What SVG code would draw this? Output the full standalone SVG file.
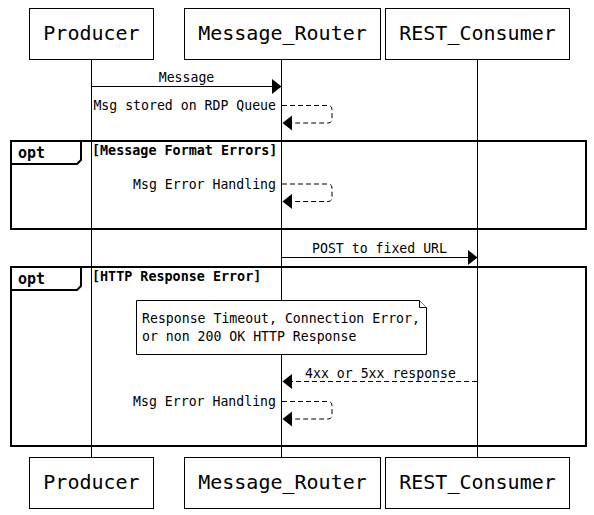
<svg xmlns="http://www.w3.org/2000/svg" width="594" height="515" viewBox="0 0 594 515">
<style>
.box{fill:#fff;stroke:#000;stroke-width:1}
.pt{font-family:"DejaVu Sans Mono","Liberation Mono",monospace;font-size:20px;fill:#000;text-anchor:middle}
.t{font-family:"DejaVu Sans Mono","Liberation Mono",monospace;font-size:13.2px;fill:#000}
.b{font-family:"DejaVu Sans Mono","Liberation Mono",monospace;font-size:13.4px;font-weight:bold;fill:#000}
.opt{font-family:"DejaVu Sans Mono","Liberation Mono",monospace;font-size:15px;font-weight:bold;fill:#000}
.life{stroke:#000;stroke-width:1;fill:none}
.msg{stroke:#000;stroke-width:1;fill:none}
.dash{stroke:#000;stroke-width:1;fill:none;stroke-dasharray:5,3}
.frame{fill:none;stroke:#000;stroke-width:2}
.head{fill:#000;stroke:none}
</style>
<rect width="594" height="515" fill="#fff"/>
<g id="lifelines">
<line class="life" x1="91.5" y1="59" x2="91.5" y2="458"/>
<line class="life" x1="281.5" y1="59" x2="281.5" y2="458"/>
<line class="life" x1="477.5" y1="59" x2="477.5" y2="458"/>
</g>
<g id="frame-opt1">
<rect class="frame" x="11" y="141" width="575" height="88"/>
<path class="frame" d="M11,164 H77 L81,160 V141"/>
<text class="opt" x="18" y="158">opt</text>
<text class="b" x="92" y="154.5">[Message Format Errors]</text>
</g>
<g id="frame-opt2">
<rect class="frame" x="11" y="267" width="575" height="179"/>
<path class="frame" d="M11,290 H77 L81,286 V267"/>
<text class="opt" x="18" y="284">opt</text>
<text class="b" x="92" y="280.5">[HTTP Response Error]</text>
</g>
<g id="note">
<path class="box" d="M136.5,300.5 H419.5 L426.5,307.5 V354.5 H136.5 Z"/>
<path class="box" d="M419.5,300.5 V307.5 H426.5"/>
<text class="t" x="142" y="323">Response Timeout, Connection Error,</text>
<text class="t" x="142" y="341">or non 200 OK HTTP Response</text>
</g>
<g id="connectors">
<line class="msg" x1="91.5" y1="86.5" x2="275" y2="86.5"/>
<polygon class="head" points="272,79 281.5,86.5 272,94"/>
<text class="t" x="186.5" y="82" text-anchor="middle">Message</text>

<path class="dash" d="M282,105.5 H328 Q332,105.5 332,109.5 V119 Q332,123 328,123 H288"/>
<polygon class="head" points="282.5,123 292,115.5 292,130.5"/>
<text class="t" x="276" y="110" text-anchor="end">Msg stored on RDP Queue</text>

<path class="dash" d="M282,184 H328 Q332,184 332,188 V197.5 Q332,201.5 328,201.5 H288"/>
<polygon class="head" points="282.5,201.5 292,194 292,209"/>
<text class="t" x="276" y="188.5" text-anchor="end">Msg Error Handling</text>

<line class="msg" x1="282" y1="257.5" x2="472" y2="257.5"/>
<polygon class="head" points="468,250 477.5,257.5 468,265"/>
<text class="t" x="379.5" y="253" text-anchor="middle">POST to fixed URL</text>

<line class="dash" x1="477" y1="381.5" x2="288" y2="381.5"/>
<polygon class="head" points="282.5,381.5 292,374 292,389"/>
<text class="t" x="380.5" y="377.5" text-anchor="middle">4xx or 5xx response</text>

<path class="dash" d="M282,401.5 H328 Q332,401.5 332,405.5 V415 Q332,419 328,419 H288"/>
<polygon class="head" points="282.5,419 292,411.5 292,426.5"/>
<text class="t" x="276" y="406" text-anchor="end">Msg Error Handling</text>
</g>
<g id="producer-top"><rect class="box" x="29.5" y="8.5" width="124" height="51"/><text class="pt" x="91.5" y="39.5">Producer</text></g>
<g id="router-top"><rect class="box" x="184.5" y="8.5" width="196" height="51"/><text class="pt" x="282.5" y="39.5">Message_Router</text></g>
<g id="consumer-top"><rect class="box" x="385.5" y="8.5" width="184" height="51"/><text class="pt" x="477.5" y="39.5">REST_Consumer</text></g>
<g id="producer-bottom"><rect class="box" x="29.5" y="457.5" width="124" height="51"/><text class="pt" x="91.5" y="488.5">Producer</text></g>
<g id="router-bottom"><rect class="box" x="184.5" y="457.5" width="196" height="51"/><text class="pt" x="282.5" y="488.5">Message_Router</text></g>
<g id="consumer-bottom"><rect class="box" x="385.5" y="457.5" width="184" height="51"/><text class="pt" x="477.5" y="488.5">REST_Consumer</text></g>
</svg>
